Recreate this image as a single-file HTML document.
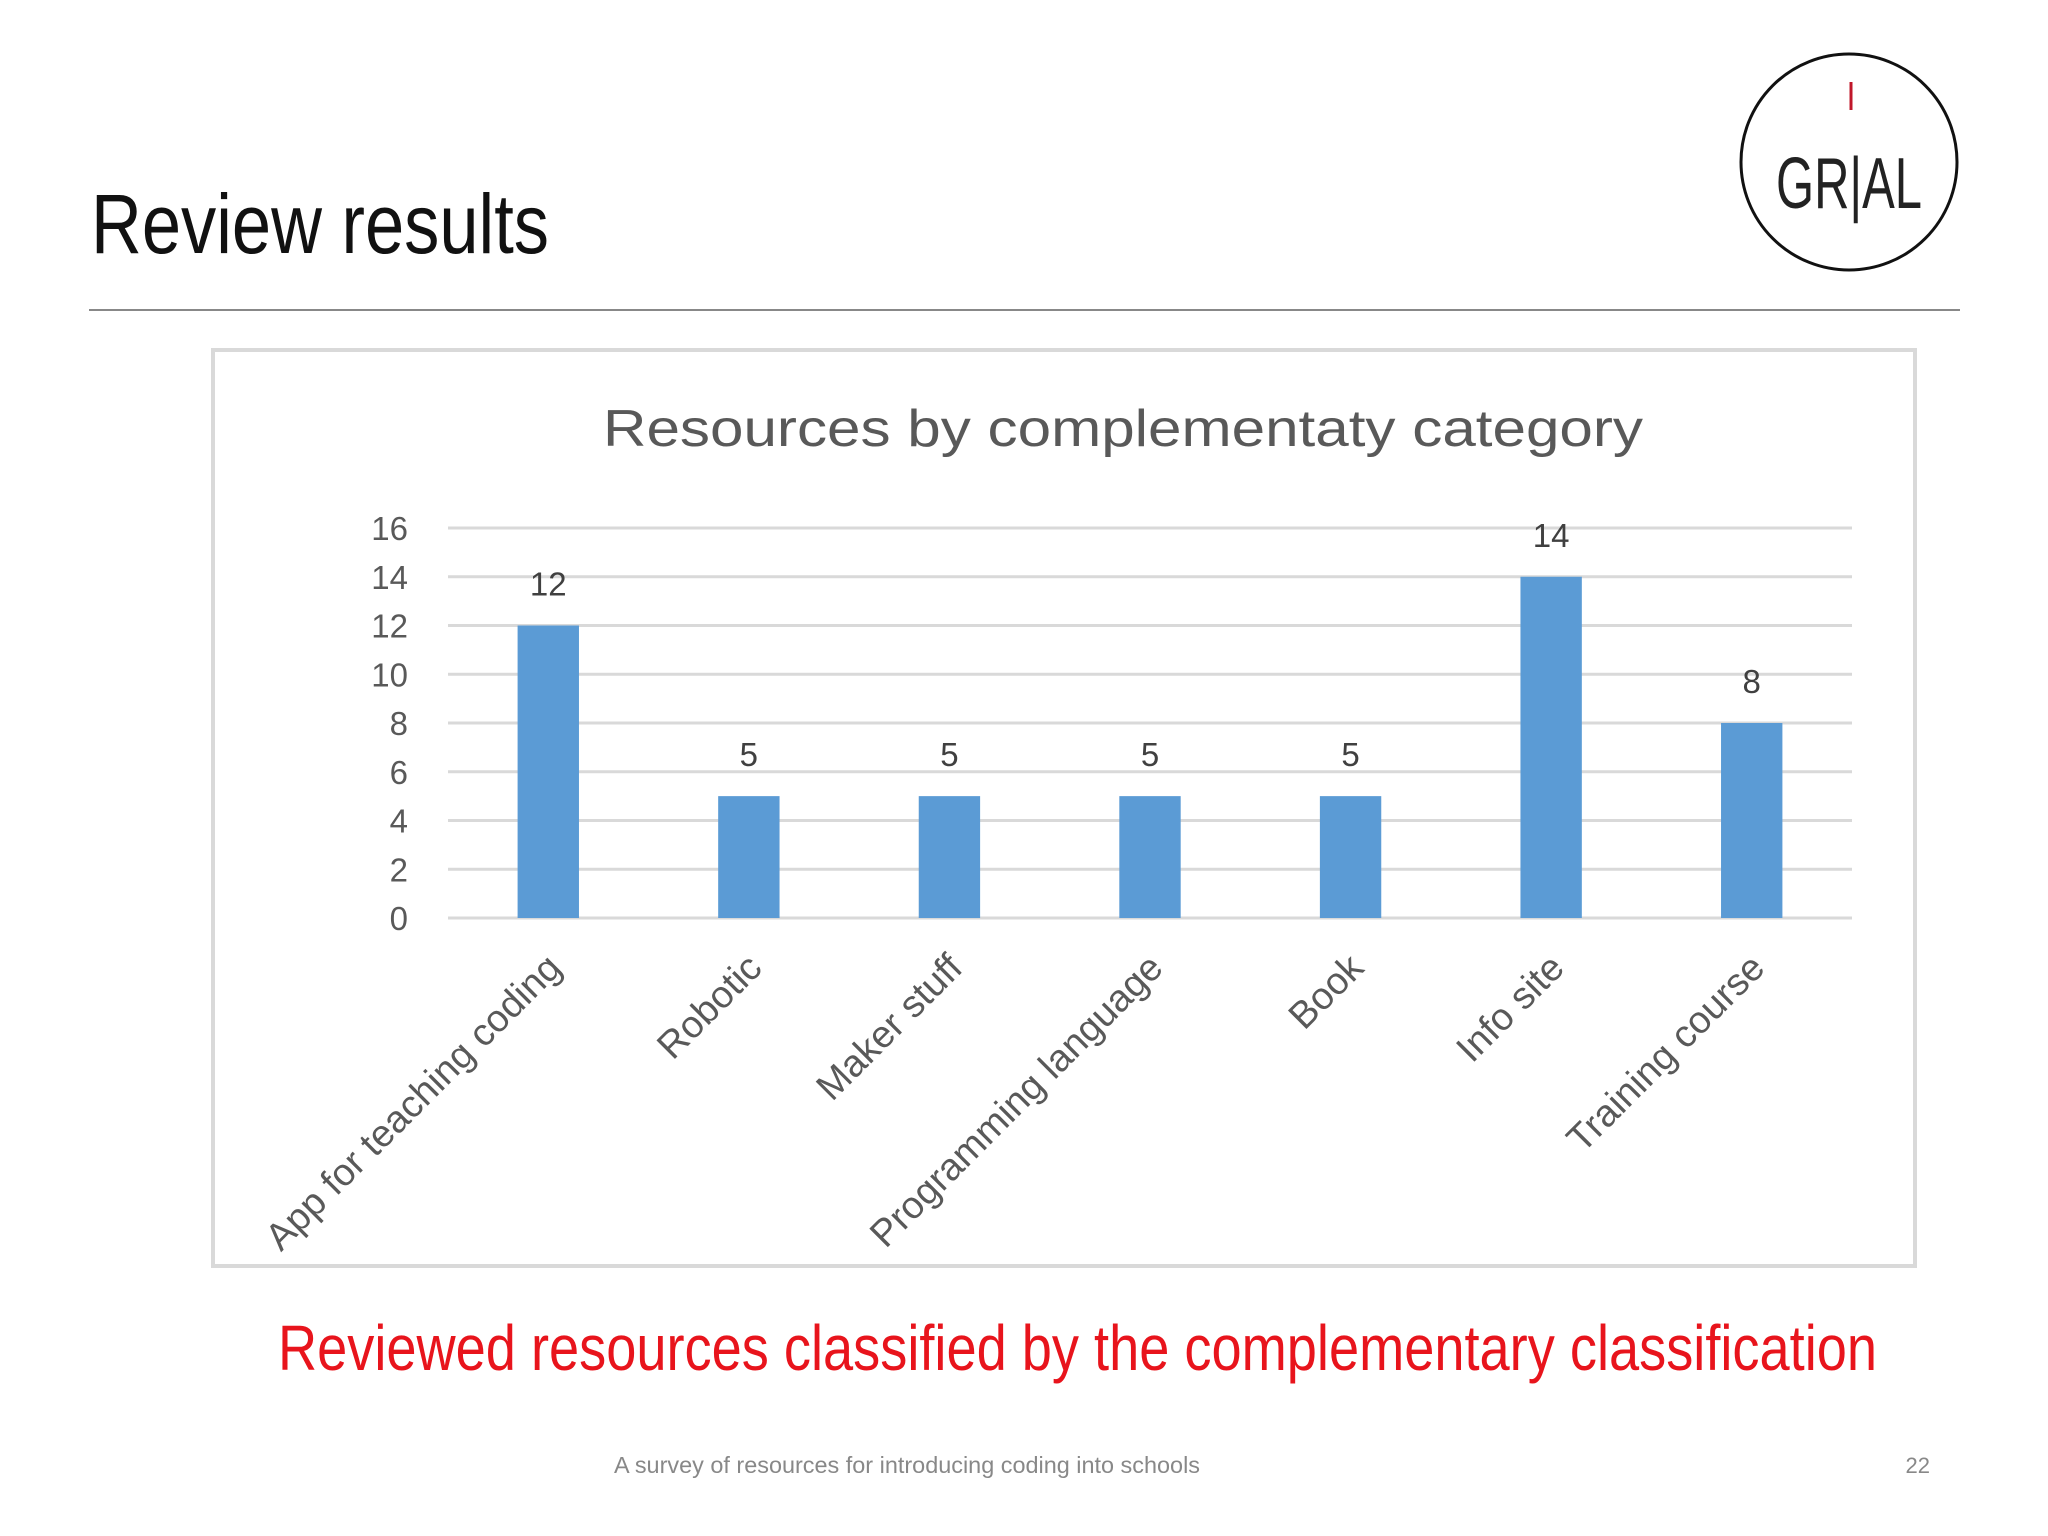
<!DOCTYPE html>
<html><head><meta charset="utf-8"><style>
html,body{margin:0;padding:0;background:#fff}
svg{display:block}
</style></head><body>
<svg id="s" width="2048" height="1536" viewBox="0 0 2048 1536" xmlns="http://www.w3.org/2000/svg" font-family="Liberation Sans, sans-serif">
<text x="91" y="253" font-size="84" textLength="458" lengthAdjust="spacingAndGlyphs" fill="#111">Review results</text>
<line x1="89" y1="310" x2="1960" y2="310" stroke="#888" stroke-width="2"/>
<g>
<circle cx="1849" cy="162" r="108" fill="none" stroke="#111" stroke-width="3"/>
<line x1="1851" y1="82" x2="1851" y2="110" stroke="#c0172a" stroke-width="3"/>
<text x="1776" y="208" font-size="72" textLength="146" lengthAdjust="spacingAndGlyphs" fill="#222">GR|AL</text>
</g>
<rect x="213" y="350" width="1702" height="916" fill="#fff" stroke="#d9d9d9" stroke-width="4"/>
<text x="603" y="446" font-size="52" textLength="1040" lengthAdjust="spacingAndGlyphs" fill="#595959">Resources by complementaty category</text>
<g id="plot"></g>
<text x="278" y="1370" font-size="64" textLength="1599" lengthAdjust="spacingAndGlyphs" fill="#e8141c">Reviewed resources classified by the complementary classification</text>
<text x="614" y="1473" font-size="23" textLength="586" lengthAdjust="spacingAndGlyphs" fill="#888">A survey of resources for introducing coding into schools</text>
<text x="1930" y="1473" font-size="22" text-anchor="end" fill="#888">22</text>
</svg>
<script>
const categories=["App for teaching coding","Robotic","Maker stuff","Programming language","Book","Info site","Training course"];
const values=[12,5,5,5,5,14,8];
const yTicks=[0,2,4,6,8,10,12,14,16];
const NS="http://www.w3.org/2000/svg";
const g=document.getElementById('plot');
const X0=448,X1=1852,Y0=918,Y1=528,YMAX=16;
const y=v=>Y0-(v/YMAX)*(Y0-Y1);
const band=(X1-X0)/categories.length;
const xc=i=>X0+band*(i+0.5);
function mk(tag,attrs,txt){const e=document.createElementNS(NS,tag);for(const k in attrs)e.setAttribute(k,attrs[k]);if(txt!=null)e.textContent=txt;g.appendChild(e);return e;}
yTicks.forEach(t=>{
  const l=mk('line',{x1:X0,x2:X1,y1:y(t),y2:y(t),stroke:'#d9d9d9','stroke-width':3});
  
  
  const tx=mk('text',{x:408,y:y(t)+12,'font-size':33,'text-anchor':'end',fill:'#595959'},t);
  
  
});
const bw=band*0.306;
values.forEach((v,i)=>{
  const r=mk('rect',{x:xc(i)-bw/2,y:y(v),width:bw,height:Y0-y(v),fill:'#5b9bd5'});
  
  
  const lb=mk('text',{x:xc(i),y:y(v)-30,'font-size':33,'text-anchor':'middle',fill:'#404040'},v);
  
  
  const cx=xc(i)+15,cy=970;
  const xl=mk('text',{x:cx,y:cy,'font-size':38,'text-anchor':'end',fill:'#595959',transform:`rotate(-45 ${cx} ${cy})`},categories[i]);
  
  
});
</script>
</body></html>
